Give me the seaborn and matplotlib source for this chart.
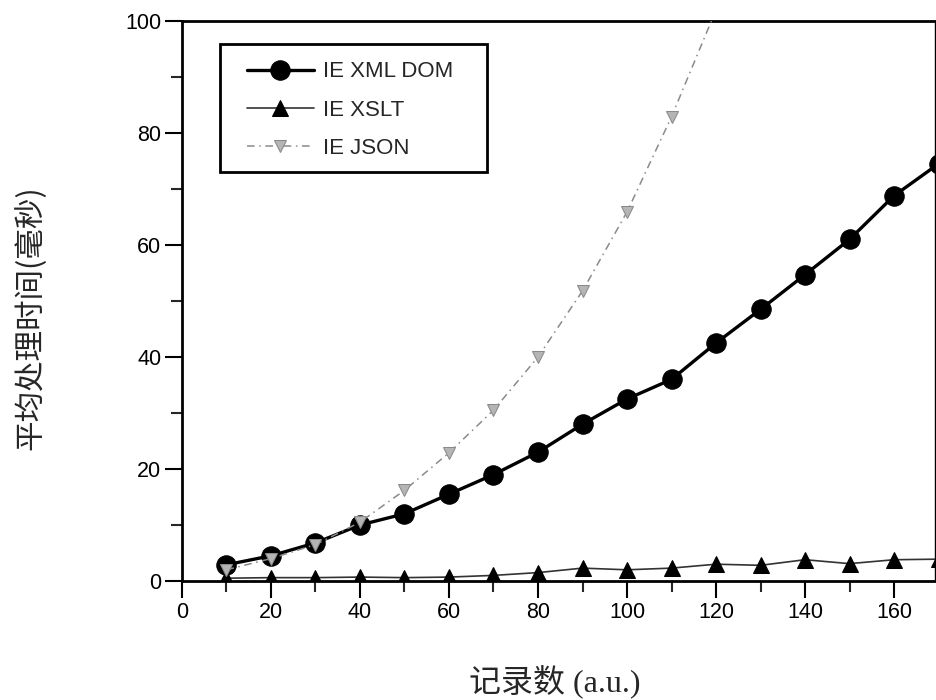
import matplotlib
matplotlib.use("Agg")
import matplotlib.pyplot as plt
from matplotlib.ticker import MultipleLocator
from matplotlib.patches import Rectangle
import seaborn as sns
import pandas as pd

sns.set_theme(style="white")
plt.rcParams['font.family'] = ['Liberation Sans', 'Noto Sans CJK SC', 'DejaVu Sans']

records = [10, 20, 30, 40, 50, 60, 70, 80, 90, 100, 110, 120, 130, 140, 150, 160, 170]
xml_dom = [2.9, 4.5, 6.8, 10.0, 12.0, 15.5, 19.0, 23.0, 28.0, 32.5, 36.0, 42.5, 48.5, 54.7, 61.0, 68.8, 74.5]
xslt = [0.5, 0.6, 0.6, 0.7, 0.6, 0.7, 1.0, 1.5, 2.3, 2.0, 2.3, 3.0, 2.8, 3.8, 3.1, 3.8, 3.9]
records_json = [10, 20, 30, 40, 50, 60, 70, 80, 90, 100, 110, 120]
json_vals = [2.0, 4.0, 6.5, 10.5, 16.2, 22.9, 30.5, 40.0, 51.8, 65.9, 82.9, 102.0]

labels = ["IE XML DOM", "IE XSLT", "IE JSON"]
xlabel = "记录数 (a.u.)"
ylabel = "平均处理时间(毫秒)"

df_dom = pd.DataFrame({"x": records, "y": xml_dom})
df_xslt = pd.DataFrame({"x": records, "y": xslt})
df_json = pd.DataFrame({"x": records_json, "y": json_vals})

fig = plt.figure(figsize=(9.36, 7.0), dpi=100)
ax = fig.add_axes([0.1944, 0.17, 0.805, 0.80])

sns.lineplot(data=df_dom, x="x", y="y", ax=ax, color="black", lw=2.4,
             marker="o", markersize=14, markeredgecolor="black",
             markerfacecolor="black", label=labels[0], zorder=3)
sns.lineplot(data=df_xslt, x="x", y="y", ax=ax, color="#333333", lw=1.2,
             marker="^", markersize=11, markeredgecolor="black",
             markerfacecolor="black", label=labels[1], zorder=3)
sns.lineplot(data=df_json, x="x", y="y", ax=ax, color="#8a8a8a", lw=1.1,
             linestyle=(0, (5, 3, 1, 3)),
             marker="v", markersize=9, markeredgecolor="#8a8a8a",
             markerfacecolor="#b5b5b5", label=labels[2], zorder=4)

ax.set_xlim(0, 169.3)
ax.set_ylim(0, 100)
ax.xaxis.set_major_locator(MultipleLocator(20))
ax.xaxis.set_minor_locator(MultipleLocator(10))
ax.yaxis.set_major_locator(MultipleLocator(20))
ax.yaxis.set_minor_locator(MultipleLocator(10))
ax.tick_params(which="major", direction="out", length=12, width=1.5,
               labelsize=15.5, colors="black", bottom=True, left=True, pad=3)
ax.tick_params(which="minor", direction="out", length=8, width=1.5,
               bottom=True, left=True)
for s in ax.spines.values():
    s.set_color("black")
    s.set_linewidth(2.0)
ax.spines["right"].set_linewidth(1.0)

ax.set_xlabel(xlabel, fontsize=23,
              family=['Liberation Serif', 'Noto Sans CJK SC', 'DejaVu Sans'])
ax.set_ylabel(ylabel, fontsize=22,
              family=['Noto Sans CJK SC', 'DejaVu Sans'])
ax.xaxis.set_label_coords(0.495, -0.15)
ax.yaxis.set_label_coords(-0.18, 0.47)

# legend frame drawn as a box behind a frameless legend
frame = Rectangle((0.0505, 0.7304), 0.3546, 0.2286, transform=ax.transAxes,
                  facecolor="white", edgecolor="black", lw=2.0, zorder=5)
ax.add_patch(frame)
leg = ax.legend(loc="upper left", bbox_to_anchor=(0.0863, 0.928),
                frameon=False, fontsize=16,
                handlelength=3.0, borderpad=0, labelspacing=0.78,
                handletextpad=0.4, borderaxespad=0)
leg.set_zorder(6)

fig.savefig("out.png", dpi=100)
